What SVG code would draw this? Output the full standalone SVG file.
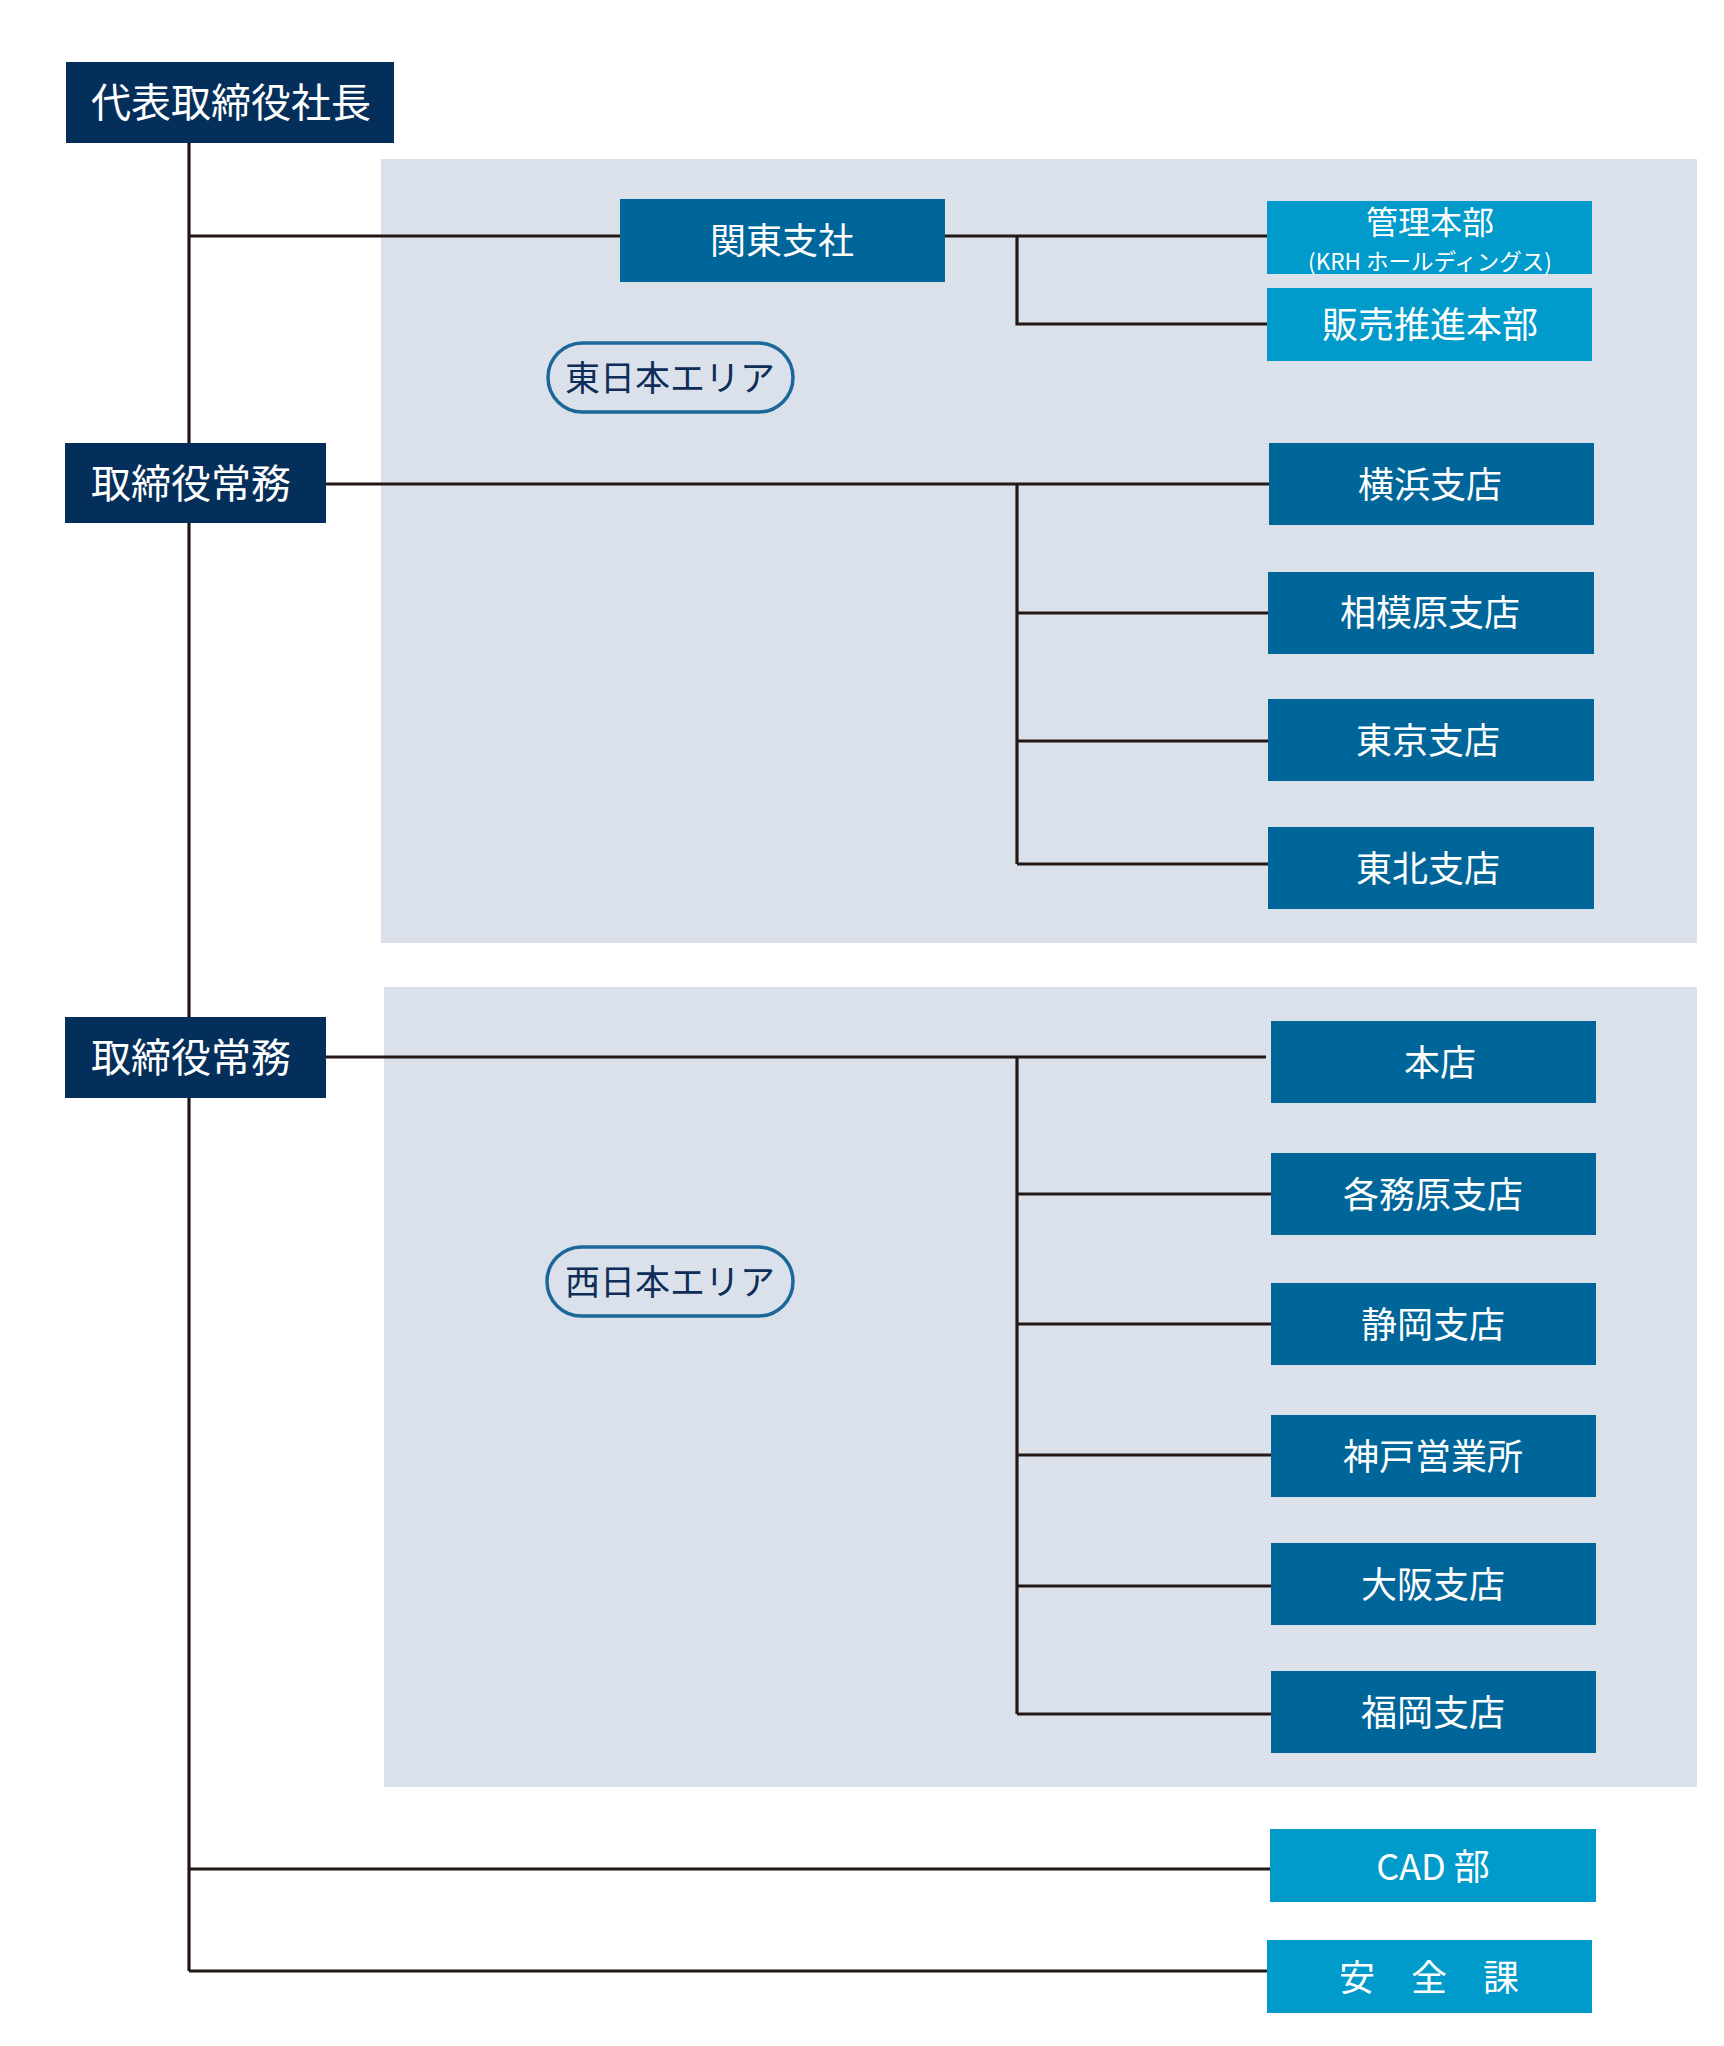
<svg xmlns="http://www.w3.org/2000/svg" width="1724" height="2046" viewBox="0 0 1724 2046">
<style>
text{font-family:"Noto Sans CJK JP","Noto Sans",sans-serif;fill:#ffffff;text-anchor:middle;dominant-baseline:central}
.exec rect{fill:#052f5b}
.mid rect{fill:#006699}
.light rect{fill:#009acb}
.panel{fill:#dae1ea}
.pill rect{fill:none;stroke:#1b679a;stroke-width:3.5}
.pill text{fill:#0e2d58;font-size:35px}
.t40{font-size:40px}
.t36{font-size:36px}
#connectors line,#connectors polyline{stroke:#231815;stroke-width:3.2;fill:none}
</style>
<rect width="1724" height="2046" fill="#ffffff"/>
<rect id="panel-east" class="panel" x="381" y="159" width="1316" height="784"/>
<rect id="panel-west" class="panel" x="384" y="987" width="1313" height="800"/>
<g id="connectors">
<line x1="189" y1="143" x2="189" y2="1971"/>
<line x1="189" y1="236" x2="620" y2="236"/>
<line x1="945" y1="236" x2="1267" y2="236"/>
<polyline points="1017,236 1017,324 1267,324"/>
<line x1="326" y1="484" x2="1269" y2="484"/>
<line x1="1017" y1="484" x2="1017" y2="864"/>
<line x1="1017" y1="613" x2="1268" y2="613"/>
<line x1="1017" y1="741" x2="1268" y2="741"/>
<line x1="1017" y1="864" x2="1268" y2="864"/>
<line x1="326" y1="1057" x2="1266" y2="1057"/>
<line x1="1017" y1="1057" x2="1017" y2="1714"/>
<line x1="1017" y1="1194" x2="1271" y2="1194"/>
<line x1="1017" y1="1324" x2="1271" y2="1324"/>
<line x1="1017" y1="1455" x2="1271" y2="1455"/>
<line x1="1017" y1="1586" x2="1271" y2="1586"/>
<line x1="1017" y1="1714" x2="1271" y2="1714"/>
<line x1="189" y1="1869" x2="1270" y2="1869"/>
<line x1="189" y1="1971" x2="1267" y2="1971"/>
</g>
<g id="president" class="exec"><rect x="66" y="62" width="328" height="81"/><text class="t40" x="231" y="100">代表取締役社長</text></g>
<g id="director-east" class="exec"><rect x="65" y="443" width="261" height="80"/><text class="t40" x="191" y="481">取締役常務</text></g>
<g id="director-west" class="exec"><rect x="65" y="1017" width="261" height="81"/><text class="t40" x="191" y="1055">取締役常務</text></g>
<g id="kanto" class="mid"><rect x="620" y="199" width="325" height="83"/><text class="t36" x="782" y="238">関東支社</text></g>
<g id="kanri" class="light"><rect x="1267" y="201" width="325" height="73"/><text x="1430" y="220" style="font-size:32px">管理本部</text><text x="1430" y="260" style="font-size:22.5px">(KRH ホールディングス)</text></g>
<g id="hanbai" class="light"><rect x="1267" y="288" width="325" height="73"/><text class="t36" x="1430" y="322">販売推進本部</text></g>
<g id="pill-east" class="pill"><rect x="548" y="343" width="245" height="69" rx="34.5"/><text x="670" y="375">東日本エリア</text></g>
<g id="yokohama" class="mid"><rect x="1269" y="443" width="325" height="82"/><text class="t36" x="1430" y="482">横浜支店</text></g>
<g id="sagamihara" class="mid"><rect x="1268" y="572" width="326" height="82"/><text class="t36" x="1430" y="610">相模原支店</text></g>
<g id="tokyo" class="mid"><rect x="1268" y="699" width="326" height="82"/><text class="t36" x="1428" y="738">東京支店</text></g>
<g id="tohoku" class="mid"><rect x="1268" y="827" width="326" height="82"/><text class="t36" x="1428" y="866">東北支店</text></g>
<g id="pill-west" class="pill"><rect x="547" y="1247" width="246" height="69" rx="34.5"/><text x="670" y="1279">西日本エリア</text></g>
<g id="honten" class="mid"><rect x="1271" y="1021" width="325" height="82"/><text class="t36" x="1440" y="1060">本店</text></g>
<g id="kakamigahara" class="mid"><rect x="1271" y="1153" width="325" height="82"/><text class="t36" x="1433" y="1192">各務原支店</text></g>
<g id="shizuoka" class="mid"><rect x="1271" y="1283" width="325" height="82"/><text class="t36" x="1433" y="1322">静岡支店</text></g>
<g id="kobe" class="mid"><rect x="1271" y="1415" width="325" height="82"/><text class="t36" x="1433" y="1454">神戸営業所</text></g>
<g id="osaka" class="mid"><rect x="1271" y="1543" width="325" height="82"/><text class="t36" x="1433" y="1582">大阪支店</text></g>
<g id="fukuoka" class="mid"><rect x="1271" y="1671" width="325" height="82"/><text class="t36" x="1433" y="1710">福岡支店</text></g>
<g id="cad" class="light"><rect x="1270" y="1829" width="326" height="73"/><text class="t36" x="1433" y="1864">CAD 部</text></g>
<g id="anzen" class="light"><rect x="1267" y="1940" width="325" height="73"/><text class="t36" x="1429" y="1975" style="word-spacing:28px">安 全 課</text></g>
</svg>
